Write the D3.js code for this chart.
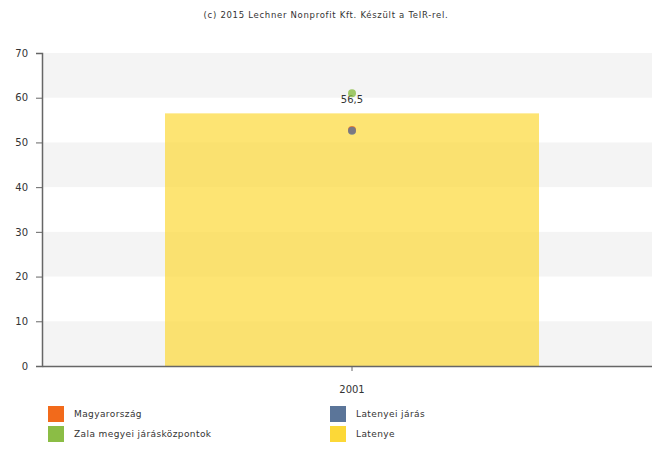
<!DOCTYPE html>
<html>
<head>
<meta charset="utf-8">
<script src="https://cdn.jsdelivr.net/npm/d3@7"></script>
<style>
    body { margin: 0; background: #fff; }
    svg text { font-family: Verdana, "DejaVu Sans", sans-serif; fill: #333; }
</style>
</head>
<body>
<div id="chart"></div>
<script>
/*
 * Chart data.
 */
var categories = ['2001'];
var barSeries = { name: 'Latenye', values: [56.5] };
var pointNames = ['Magyarország', 'Latenyei járás', 'Zala megyei járásközpontok'];
var pointValues = [52.8, 52.6, 61.0];
var yTicks = [0, 10, 20, 30, 40, 50, 60, 70];
var legendNames = ['Magyarország', 'Zala megyei járásközpontok', 'Latenyei járás', 'Latenye'];

var colors = {
    'Magyarország': '#f26a1b',
    'Latenyei járás': '#5b7599',
    'Zala megyei járásközpontok': '#8bbd45',
    'Latenye': '#fcd837'
};

var width = 652, height = 458;
var margin = { top: 53, right: 0, bottom: 92, left: 42 };

var svg = d3.select('#chart').append('svg')
    .attr('width', width)
    .attr('height', height);

/*
 * Scales.
 */
var x = d3.scaleBand()
    .domain(categories)
    .range([margin.left, 662]);

var y = d3.scaleLinear()
    .domain([0, 70])
    .range([height - margin.bottom, margin.top]);

/*
 * Alternating background bands.
 */
svg.append('g').selectAll('rect')
    .data(yTicks.slice(0, -1).filter(function(d, i) { return i % 2 === 0; }))
    .enter().append('rect')
    .attr('x', margin.left)
    .attr('width', width - margin.left - margin.right)
    .attr('y', function(d) { return y(d + 10); })
    .attr('height', function(d) { return y(d) - y(d + 10); })
    .attr('fill', '#f4f4f4');

/*
 * Title.
 */
svg.append('text')
    .attr('x', 326)
    .attr('y', 18)
    .attr('text-anchor', 'middle')
    .style('font-size', '8.5px')
    .style('letter-spacing', '0.7px')
    .text('(c) 2015 Lechner Nonprofit Kft. Készült a TeIR-rel.');

/*
 * Bars.
 */
var bw = 374;
var cx = function(i) { return x(categories[i]) + x.bandwidth() / 2; };
svg.append('g').selectAll('rect')
    .data(barSeries.values)
    .enter().append('rect')
    .attr('x', function(d, i) { return cx(i) - bw / 2; })
    .attr('width', bw)
    .attr('y', function(d) { return y(d); })
    .attr('height', function(d) { return y(0) - y(d); })
    .attr('fill', colors['Latenye'])
    .attr('opacity', 0.7);

/*
 * Value label.
 */
svg.append('g').selectAll('text')
    .data(barSeries.values)
    .enter().append('text')
    .attr('x', function(d, i) { return cx(i); })
    .attr('y', function(d) { return y(d) - 10; })
    .attr('text-anchor', 'middle')
    .style('font-size', '10px')
    .text(function(d) { return String(d).replace('.', ','); });

/*
 * Points.
 */
svg.append('g').selectAll('circle')
    .data(pointValues)
    .enter().append('circle')
    .attr('cx', cx(0))
    .attr('cy', function(d) { return y(d); })
    .attr('r', 4)
    .attr('fill', function(d, i) { return colors[pointNames[i]]; })
    .attr('opacity', 0.8);

/*
 * Axes.
 */
var yAxis = svg.append('g')
    .attr('transform', 'translate(' + margin.left + ',0)')
    .call(d3.axisLeft(y).tickValues(yTicks).tickSize(6).tickPadding(8));
yAxis.select('.domain').attr('stroke', '#666').attr('stroke-width', 1.5);
yAxis.selectAll('.tick line').attr('stroke', '#666');
yAxis.selectAll('.tick text').style('font-size', '10px').attr('fill', '#444')
    .style('font-family', 'Verdana, "DejaVu Sans", sans-serif');

var xAxis = svg.append('g')
    .attr('transform', 'translate(0,' + y(0) + ')')
    .call(d3.axisBottom(x).tickSize(5).tickPadding(15).tickSizeOuter(0));
xAxis.select('.domain').attr('stroke', '#666').attr('stroke-width', 1.5);
xAxis.selectAll('.tick line').attr('stroke', '#666');
xAxis.selectAll('.tick text').style('font-size', '10px').attr('fill', '#444')
    .style('font-family', 'Verdana, "DejaVu Sans", sans-serif');

/*
 * Legend.
 */
var legend = svg.append('g').selectAll('g')
    .data(legendNames)
    .enter().append('g')
    .attr('transform', function(d, i) {
        return 'translate(' + (i < 2 ? 48 : 330) + ',' + (406 + (i % 2) * 20) + ')';
    });
legend.append('rect')
    .attr('width', 16)
    .attr('height', 16)
    .attr('fill', function(d) { return colors[d]; });
legend.append('text')
    .attr('x', 26)
    .attr('y', 11)
    .style('font-size', '9px')
    .style('letter-spacing', '0.4px')
    .text(function(d) { return d; });
</script>
</body>
</html>
